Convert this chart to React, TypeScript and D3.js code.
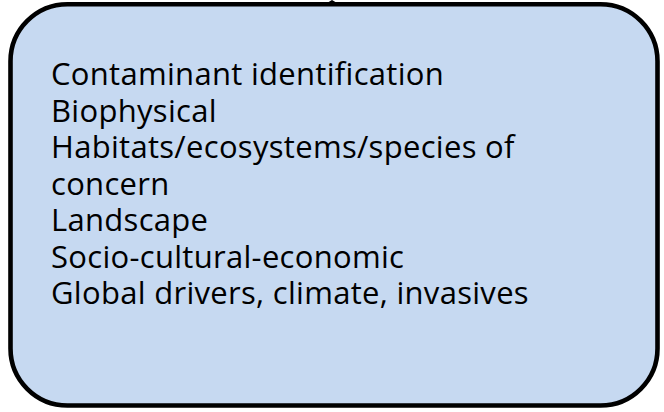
import * as d3 from 'd3';
import React from 'react';

const W = 664;
const H = 412;

// text lines inside the box, top to bottom
const lines: string[] = [
    'Contaminant identification',
    'Biophysical',
    'Habitats/ecosystems/species of',
    'concern',
    'Landscape',
    'Socio-cultural-economic',
    'Global drivers, climate, invasives',
];

const box = { x0: 10.5, y0: 4.2, x1: 657.5, y1: 405.5, r: 57 };

export default function App() {
    // baseline of each line
    const y = d3
        .scaleLinear()
        .domain([0, lines.length - 1])
        .range([85, 304]);

    return (
        <svg
            width={W}
            height={H}
            viewBox={`0 0 ${W} ${H}`}
            style={{ position: 'absolute', left: 0, top: 0, display: 'block', background: '#fff' }}
        >
            <rect
                x={box.x0}
                y={box.y0}
                width={box.x1 - box.x0}
                height={box.y1 - box.y0}
                rx={box.r}
                ry={box.r}
                fill="#c6d9f1"
                stroke="#000"
                strokeWidth={4.6}
            />
            {/* tip of the connector arrow above the box */}
            <polygon points="327,3 332,0 337,3" fill="#000" />
            {lines.map((t, i) => (
                <text
                    key={i}
                    x={51}
                    y={y(i)}
                    fontFamily="'Open Sans', sans-serif"
                    fontSize={31}
                    letterSpacing={0.3}
                    fill="#000"
                    style={{ fontVariantLigatures: 'none' }}
                >
                    {t}
                </text>
            ))}
        </svg>
    );
}
